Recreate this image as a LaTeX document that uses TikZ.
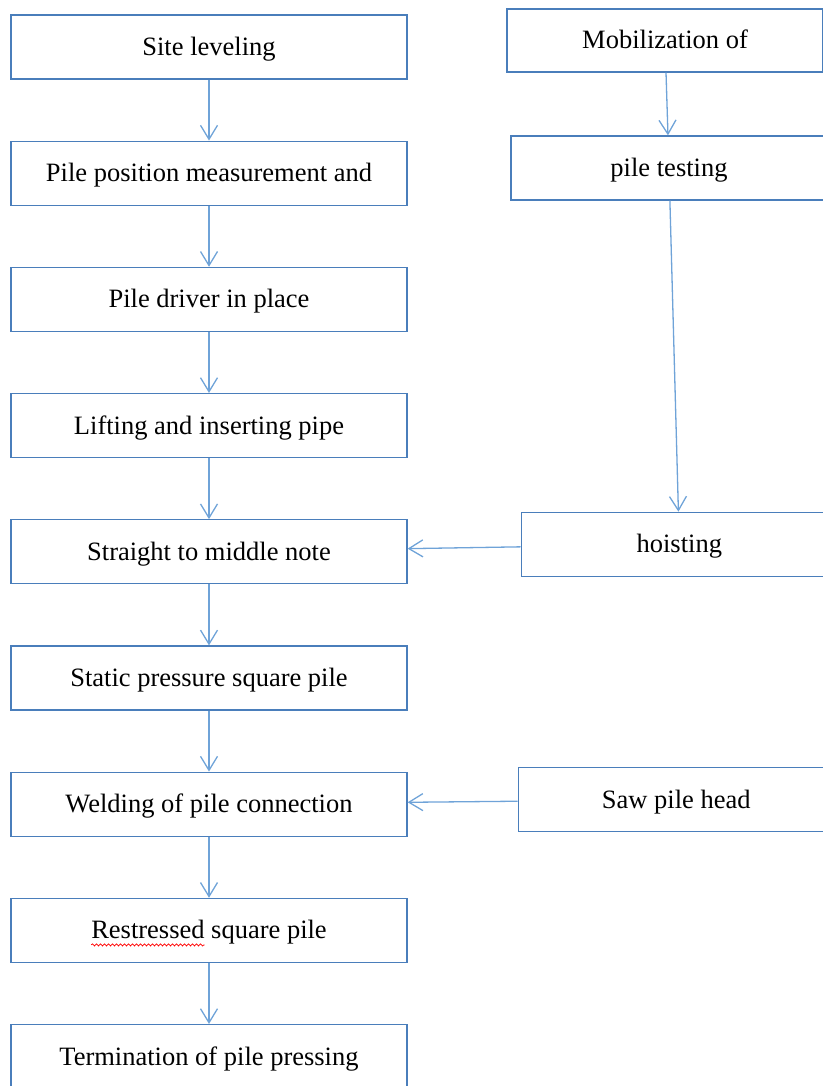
\documentclass[tikz,border=0pt]{standalone}
\usepackage{fontspec}
\setmainfont{Liberation Serif}
\usetikzlibrary{arrows.meta, positioning, decorations.pathmorphing}
\definecolor{boxblue}{HTML}{4A7EBB}
\definecolor{arrowblue}{HTML}{6FA3D8}
\newcommand\boxfont{\fontsize{26.5}{31}\selectfont}
\newlength\wordwd
\newlength\linewd
\tikzset{
    stepbox/.style={
        rectangle, draw=boxblue, line width=1.3pt,
        minimum width=396pt, minimum height=64pt, inner sep=2pt,
        text height=22pt, text depth=5pt,
        fill=white, font=\boxfont
    },
    sidebox/.style={stepbox, minimum width=316pt},
    flow/.style={draw=arrowblue, line width=1.3pt, -{Straight Barb[length=14pt, width=17pt]}},
    spellmark/.style={draw=red, line width=0.7pt, decorate,
        decoration={snake, amplitude=1.1pt, segment length=4pt}}
}
\begin{document}
\settowidth\wordwd{\boxfont Restressed}
\settowidth\linewd{\boxfont Restressed square pile}
\begin{tikzpicture}[x=1pt, y=1pt, node distance=60.9pt]
\useasboundingbox (0,0) rectangle (822,-1086);

% Main sequence (left)
\node[stepbox] (site) at (209,-47) {Site leveling};
\node[stepbox, below=of site] (measure) {Pile position measurement and};
\node[stepbox, below=of measure] (driver) {Pile driver in place};
\node[stepbox, below=of driver] (lifting) {Lifting and inserting pipe};
\node[stepbox, below=of lifting] (straight) {Straight to middle note};
\node[stepbox, below=of straight] (static) {Static pressure square pile};
\node[stepbox, below=of static] (welding) {Welding of pile connection};
\node[stepbox, below=of welding] (restress) {Restressed square pile};
\node[stepbox, below=of restress] (termination) {Termination of pile pressing};

% Side branch (right)
\node[sidebox, minimum height=63pt] (mobil) at (665,-40.5) {Mobilization of};
\node[sidebox, below=62.7pt of mobil, xshift=4pt] (testing) {pile testing};
\node[sidebox, right=113pt of straight, yshift=7.5pt] (hoisting) {hoisting};
\node[sidebox, right=110pt of welding, yshift=4.5pt] (sawhead) {Saw pile head};

% Main flow
\draw[flow] (site) -- (measure);
\draw[flow] (measure) -- (driver);
\draw[flow] (driver) -- (lifting);
\draw[flow] (lifting) -- (straight);
\draw[flow] (straight) -- (static);
\draw[flow] (static) -- (welding);
\draw[flow] (welding) -- (restress);
\draw[flow] (restress) -- (termination);

% Side flow
\draw[flow] (mobil) -- (testing);
\draw[flow] (testing) -- (hoisting);
\draw[flow] (hoisting) -- (straight);
\draw[flow] (sawhead) -- (welding);

% spelling mark under the first word
\draw[spellmark] ([shift={(-0.5\linewd,-14.5pt)}]restress.center)
    -- ++(\wordwd,0);

\end{tikzpicture}
\end{document}
